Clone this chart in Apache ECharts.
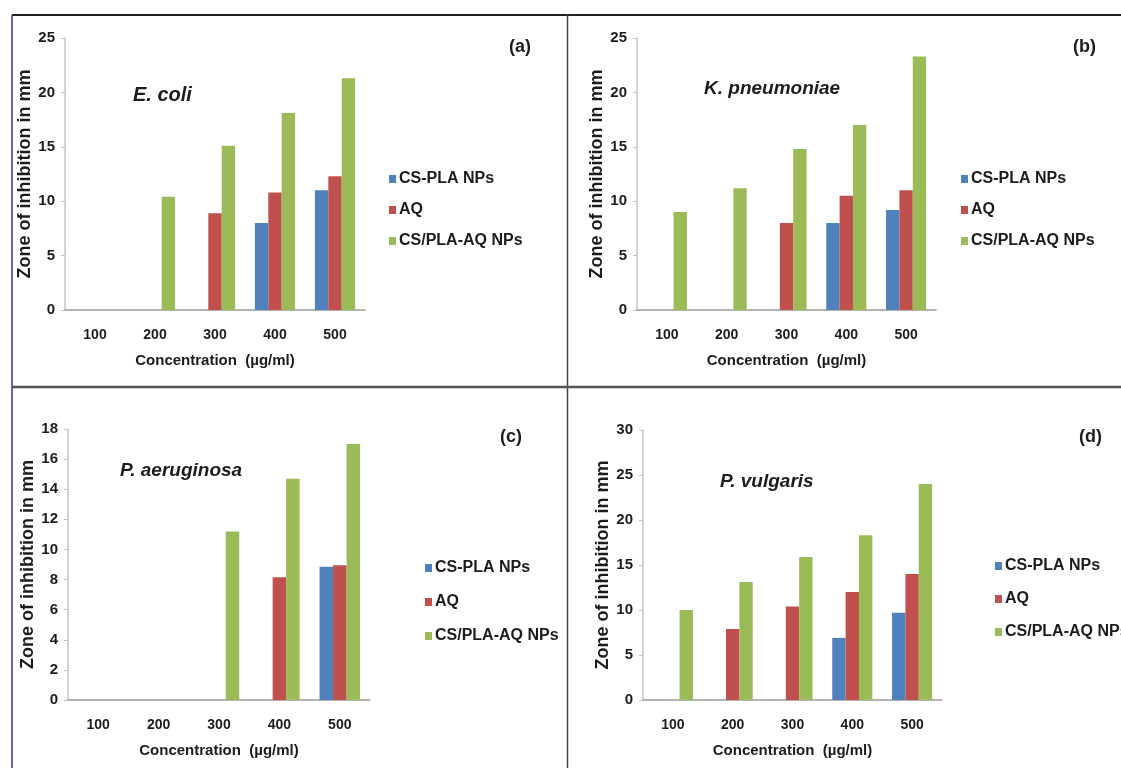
<!DOCTYPE html>
<html>
<head>
<meta charset="utf-8">
<script src="https://cdn.jsdelivr.net/npm/echarts@6/dist/echarts.min.js"></script>
<style>html,body{margin:0;padding:0;background:#fff;}#c{width:1121px;height:768px;}</style>
</head>
<body>
<div id="c"></div>
<script>
const categories = ['100','200','300','400','500'];
const seriesNames = ['CS-PLA NPs','AQ','CS/PLA-AQ NPs'];
const colors = ['#4F81BD','#C0504D','#9BBB59'];

// (a) E. coli
const ecoliCSPLA = [0, 0, 0, 8.0, 11.0];
const ecoliAQ    = [0, 0, 8.9, 10.8, 12.3];
const ecoliCSPLAAQ = [0, 10.4, 15.1, 18.1, 21.3];
// (b) K. pneumoniae
const kpnCSPLA = [0, 0, 0, 8.0, 9.2];
const kpnAQ    = [0, 0, 8.0, 10.5, 11.0];
const kpnCSPLAAQ = [9.0, 11.2, 14.8, 17.0, 23.3];
// (c) P. aeruginosa
const paeCSPLA = [0, 0, 0, 0, 8.85];
const paeAQ    = [0, 0, 0, 8.15, 8.95];
const paeCSPLAAQ = [0, 0, 11.2, 14.7, 17.0];
// (d) P. vulgaris
const pvuCSPLA = [0, 0, 0, 6.9, 9.7];
const pvuAQ    = [0, 7.9, 10.4, 12.0, 14.0];
const pvuCSPLAAQ = [10.0, 13.1, 15.9, 18.3, 24.0];

const panelNames = ['(a)','(b)','(c)','(d)'];
const speciesNames = ['E. coli','K. pneumoniae','P. aeruginosa','P. vulgaris'];
const yMax = [25, 25, 18, 30];
const yInterval = [5, 5, 2, 5];
const yAxisTitle = 'Zone of inhibition in mm';
const xAxisTitle = 'Concentration  (µg/ml)';

const panelData = [
  [ecoliCSPLA, ecoliAQ, ecoliCSPLAAQ],
  [kpnCSPLA, kpnAQ, kpnCSPLAAQ],
  [paeCSPLA, paeAQ, paeCSPLAAQ],
  [pvuCSPLA, pvuAQ, pvuCSPLAAQ]
];

const FONT = "'Liberation Sans Narrow','Arial Narrow','Liberation Sans',Arial,sans-serif";
const TXT = '#1c1c1c';

const grids = [
  {left: 65, top: 38, width: 300, height: 272},
  {left: 637, top: 38, width: 299, height: 272},
  {left: 68, top: 429, width: 302, height: 271},
  {left: 643, top: 430, width: 299, height: 270}
];
const speciesPos = [
  {left: 128, top: 80},
  {left: 699, top: 74},
  {left: 115, top: 456},
  {left: 715, top: 467}
];
const speciesSize = [20, 19, 19, 19];
const panelPos = [
  {left: 504, top: 33},
  {left: 1068, top: 33},
  {left: 495, top: 423},
  {left: 1074, top: 423}
];
const legendPos = [
  {left: 384, top: 166},
  {left: 956, top: 166},
  {left: 420, top: 555},
  {left: 990, top: 553}
];
const legendGap = [15, 15, 18, 17];
const yNameGap = [27, 26, 25, 29];

const option = {
  animation: false,
  backgroundColor: '#fff',
  color: colors,
  textStyle: {fontFamily: FONT},
  grid: grids,
  title: [],
  legend: [],
  xAxis: [],
  yAxis: [],
  series: [],
  graphic: [
    {type: 'line', shape: {x1: 12, y1: 15, x2: 1121, y2: 15}, style: {stroke: '#222', lineWidth: 2}},
    {type: 'line', shape: {x1: 12, y1: 15, x2: 12, y2: 768}, style: {stroke: '#3030b0', lineWidth: 1.5}},
    {type: 'line', shape: {x1: 567.5, y1: 15, x2: 567.5, y2: 768}, style: {stroke: '#444', lineWidth: 1.5}},
    {type: 'line', shape: {x1: 12, y1: 387, x2: 1121, y2: 387}, style: {stroke: '#555', lineWidth: 2.5}}
  ]
};

for (let p = 0; p < 4; p++) {
  option.title.push({
    text: speciesNames[p], left: speciesPos[p].left, top: speciesPos[p].top,
    textStyle: {fontFamily: FONT, fontSize: speciesSize[p], fontWeight: 'bold', fontStyle: 'italic', color: TXT}
  });
  option.title.push({
    text: panelNames[p], left: panelPos[p].left, top: panelPos[p].top,
    textStyle: {fontFamily: FONT, fontSize: 18, fontWeight: 'bold', color: TXT}
  });
  option.legend.push({
    data: seriesNames, orient: 'vertical', left: legendPos[p].left, top: legendPos[p].top,
    icon: 'rect', itemWidth: 7, itemHeight: 8, itemGap: legendGap[p],
    selectedMode: false,
    textStyle: {fontFamily: FONT, fontSize: 16, fontWeight: 'bold', color: TXT, padding: [0,0,0,-2]}
  });
  option.xAxis.push({
    type: 'category', gridIndex: p, data: categories,
    axisLine: {lineStyle: {color: '#9a9a9a', width: 1.5}},
    axisTick: {show: false},
    axisLabel: {fontFamily: FONT, fontSize: 14, fontWeight: 'bold', color: TXT, margin: 18},
    name: xAxisTitle, nameLocation: 'middle', nameGap: 43,
    nameTextStyle: {fontFamily: FONT, fontSize: 15, fontWeight: 'bold', color: TXT}
  });
  option.yAxis.push({
    type: 'value', gridIndex: p, min: 0, max: yMax[p], interval: yInterval[p],
    axisLine: {show: true, lineStyle: {color: '#c4c4c4', width: 1.5}},
    axisTick: {show: true, length: 4, lineStyle: {color: '#c4c4c4'}},
    splitLine: {show: false},
    axisLabel: {fontFamily: FONT, fontSize: 15, fontWeight: 'bold', color: TXT, margin: 10},
    name: yAxisTitle, nameLocation: 'middle', nameGap: yNameGap[p], nameRotate: 90,
    nameTextStyle: {fontFamily: FONT, fontSize: 18, fontWeight: 'bold', color: TXT}
  });
  for (let s = 0; s < 3; s++) {
    option.series.push({
      type: 'bar', name: seriesNames[s], xAxisIndex: p, yAxisIndex: p,
      data: panelData[p][s], barGap: '0%', barCategoryGap: '33%',
      itemStyle: {color: colors[s]}
    });
  }
}

const chart = echarts.init(document.getElementById('c'), null, {renderer: 'canvas'});
chart.setOption(option);
</script>
</body>
</html>
